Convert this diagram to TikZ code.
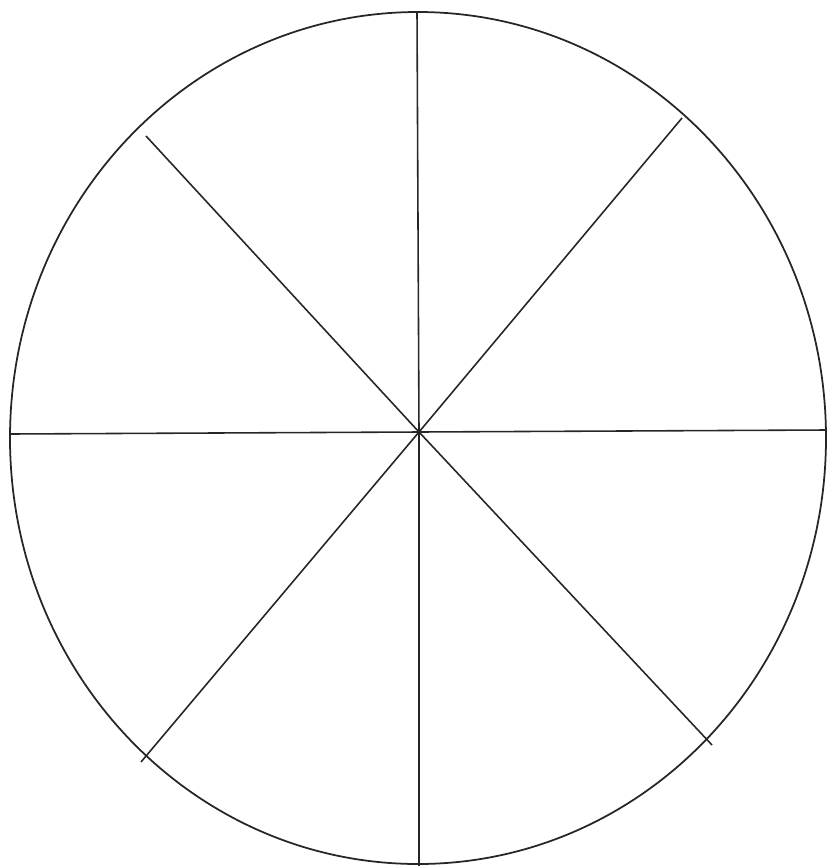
\documentclass[tikz,border=0pt]{standalone}
\usepackage{tikz}

\begin{document}
\begin{tikzpicture}[x=0.2mm, y=-0.2mm,
  rim/.style={line width=1pt, draw=black!85},
  spoke/.style={line width=0.9pt, draw=black!85}]
  \useasboundingbox (0,0) rectangle (827,868);
  \coordinate (hub) at (419,432);
  % outer wheel
  \draw[rim] (418,438) ellipse [x radius=408, y radius=426];
  % spoke ends
  \coordinate (n) at (417,11);
  \coordinate (s) at (419,866);
  \coordinate (w) at (10,434);
  \coordinate (e) at (826,430);
  \coordinate (nw) at (146,136);
  \coordinate (ne) at (682,118);
  \coordinate (sw) at (141,762);
  \coordinate (se) at (712,745);
  \foreach \p in {n,s,w,e,nw,ne,sw,se}
    \draw[spoke] (hub) -- (\p);
\end{tikzpicture}
\end{document}
